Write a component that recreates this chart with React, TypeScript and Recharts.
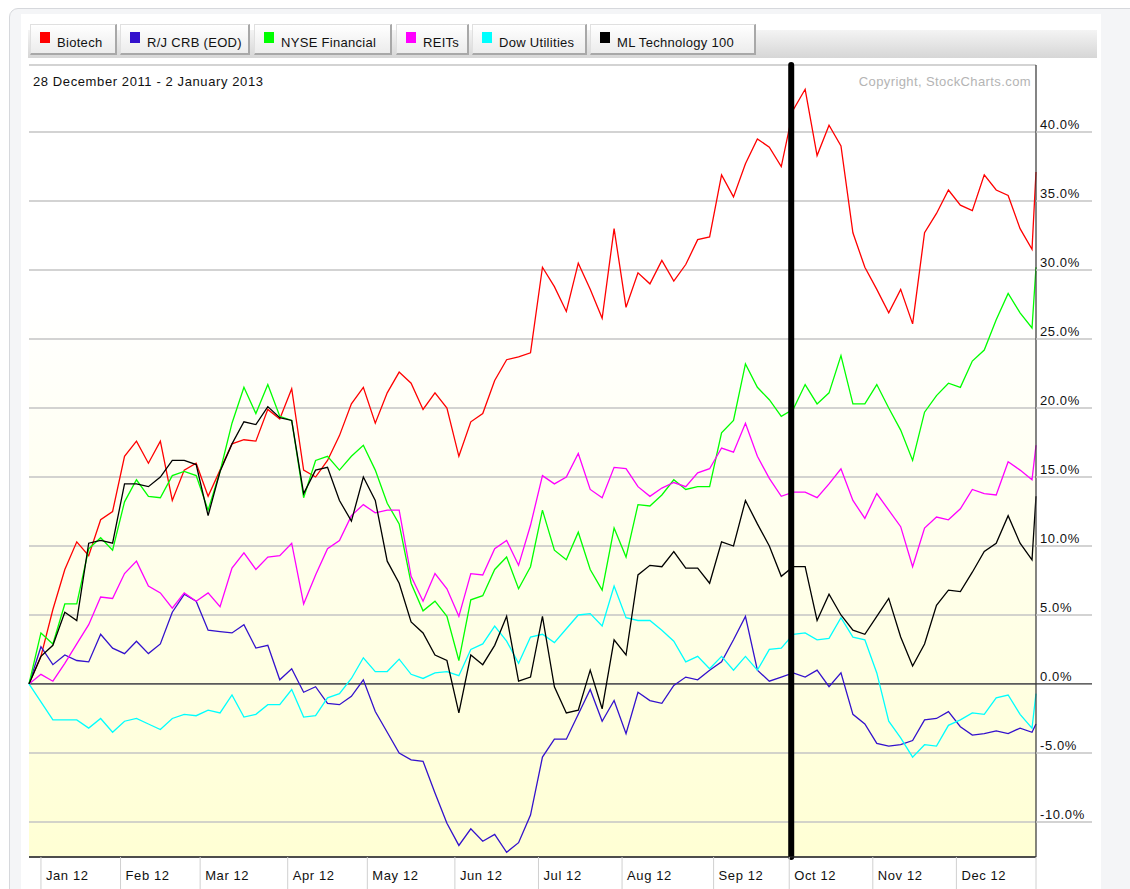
import React from 'react';
import { LineChart, Line, XAxis, YAxis, CartesianGrid, ReferenceLine } from 'recharts';

// sampled every 3rd trading day, last point = 2 Jan 2013 (day 253)
const biotech = [
  0, 2.0, 5.4, 8.3, 10.3, 9.3, 11.9, 12.5, 16.5, 17.6,
  16.0, 17.6, 13.3, 15.5, 16.0, 13.6, 15.5, 17.4, 17.7, 17.6,
  19.9, 19.2, 21.4, 15.5, 15.0, 16.2, 18.0, 20.3, 21.5, 18.9,
  21.1, 22.6, 21.8, 19.9, 21.1, 20.0, 16.5, 19.0, 19.6, 22.0,
  23.5, 23.7, 24.0, 30.2, 28.8, 27.0, 30.5, 28.6, 26.5, 33.0,
  27.3, 29.8, 29.0, 30.7, 29.2, 30.4, 32.2, 32.4, 36.9, 35.3,
  37.7, 39.5, 38.9, 37.5, 41.6, 43.1, 38.3, 40.5, 39.0, 32.7,
  30.2, 28.6, 26.9, 28.6, 26.1, 32.7, 34.1, 35.8, 34.7, 34.3,
  36.9, 35.8, 35.4, 33.0, 31.5, 37.1,
];
const rjCrb = [
  0, 2.7, 1.4, 2.1, 1.7, 1.6, 3.6, 2.6, 2.2, 3.1,
  2.2, 2.9, 5.2, 6.5, 6.0, 3.9, 3.8, 3.7, 4.3, 2.6,
  2.8, 0.3, 1.1, -0.6, -0.2, -1.4, -1.5, -0.9, 0.3, -2.0,
  -3.5, -5.0, -5.5, -5.6, -7.9, -10.1, -11.7, -10.5, -11.4, -10.9,
  -12.2, -11.5, -9.5, -5.3, -4.0, -4.0, -2.2, -0.4, -2.7, -1.2,
  -3.6, -0.6, -1.2, -1.4, -0.1, 0.5, 0.3, 1.0, 1.6, 3.2,
  4.9, 1.0, 0.2, 0.5, 0.8, 0.5, 1.0, -0.2, 0.8, -2.2,
  -2.9, -4.3, -4.5, -4.4, -4.1, -2.6, -2.5, -2.0, -3.1, -3.7,
  -3.6, -3.4, -3.6, -3.2, -3.5, -2.9,
];
const nyseFinancial = [
  0, 3.7, 2.9, 5.8, 5.8, 9.8, 10.6, 9.7, 13.2, 14.8,
  13.6, 13.5, 15.1, 15.4, 15.1, 12.6, 15.4, 18.9, 21.5, 19.6,
  21.7, 19.4, 19.1, 13.5, 16.2, 16.5, 15.5, 16.5, 17.3, 15.5,
  13.1, 11.6, 7.3, 5.3, 6.0, 4.9, 1.7, 6.1, 6.4, 8.3,
  9.2, 6.9, 8.5, 12.6, 9.7, 9.0, 11.0, 8.3, 6.8, 11.3,
  9.2, 13.0, 12.9, 13.7, 14.8, 14.1, 14.3, 14.3, 18.2, 19.1,
  23.2, 21.5, 20.6, 19.4, 19.9, 21.7, 20.3, 21.1, 23.8, 20.3,
  20.3, 21.7, 20.0, 18.4, 16.2, 19.7, 20.9, 21.8, 21.5, 23.4,
  24.2, 26.4, 28.3, 26.9, 25.8, 30.2,
];
const reits = [
  0, 0.7, 0.2, 1.5, 2.9, 4.3, 6.3, 6.2, 8.0, 8.9,
  7.1, 6.6, 5.5, 6.6, 6.0, 6.6, 5.6, 8.4, 9.5, 8.3,
  9.2, 9.3, 10.2, 5.8, 7.9, 9.8, 10.4, 12.2, 13.0, 12.4,
  12.6, 12.6, 7.8, 6.0, 8.0, 6.9, 4.9, 8.0, 7.9, 9.8,
  10.4, 8.6, 11.5, 15.1, 14.5, 15.0, 16.7, 14.1, 13.5, 15.7,
  15.6, 14.3, 13.6, 14.2, 14.6, 14.3, 15.3, 15.6, 17.1, 16.8,
  18.9, 16.5, 14.9, 13.6, 13.9, 13.9, 13.5, 14.5, 15.6, 13.3,
  12.0, 13.8, 12.6, 11.4, 8.5, 11.3, 12.1, 11.9, 12.7, 14.1,
  13.8, 13.7, 16.1, 15.5, 14.8, 17.3,
];
const dowUtilities = [
  0, -1.3, -2.6, -2.6, -2.6, -3.2, -2.5, -3.5, -2.7, -2.5,
  -2.9, -3.3, -2.5, -2.2, -2.3, -1.9, -2.1, -0.8, -2.4, -2.2,
  -1.5, -1.5, -0.4, -2.4, -2.3, -1.0, -0.7, 0.4, 1.9, 0.9,
  0.9, 1.8, 0.7, 0.4, 0.8, 0.9, 0.6, 2.5, 2.9, 4.2,
  3.1, 1.5, 3.4, 3.6, 3.0, 4.0, 5.0, 5.1, 4.2, 7.1,
  4.8, 4.6, 4.6, 3.9, 3.1, 1.6, 2.0, 1.1, 2.0, 1.0,
  2.0, 1.0, 2.5, 2.6, 3.6, 3.7, 3.2, 3.3, 4.8, 3.4,
  3.2, 0.8, -2.7, -3.9, -5.3, -4.4, -4.5, -3.0, -2.6, -2.1,
  -2.2, -1.0, -0.8, -2.2, -3.2, -0.7,
];
const mlTech = [
  0, 2.0, 2.8, 5.2, 4.6, 10.2, 10.4, 10.2, 14.5, 14.5,
  14.3, 15.0, 16.2, 16.2, 15.9, 12.2, 15.4, 17.4, 19.0, 18.8,
  20.1, 19.3, 19.1, 13.8, 15.5, 15.7, 13.3, 11.8, 15.0, 13.3,
  8.9, 7.3, 4.5, 3.7, 2.1, 1.7, -2.1, 2.1, 1.4, 2.8,
  4.9, 0.2, 0.5, 4.9, -0.2, -2.1, -1.9, 1.0, -1.8, 3.2,
  2.1, 7.9, 8.6, 8.5, 9.6, 8.4, 8.4, 7.3, 10.3, 10.0,
  13.3, 11.6, 10.0, 7.8, 8.5, 8.5, 4.6, 6.5, 5.0, 3.9,
  3.6, 4.9, 6.2, 3.4, 1.3, 2.9, 5.7, 6.8, 6.7, 8.1,
  9.6, 10.2, 12.2, 10.2, 9.0, 13.6,
];

const seriesKeys = ['biotech', 'rjCrb', 'nyseFinancial', 'reits', 'dowUtilities', 'mlTech'];
const seriesNames = ['Biotech', 'R/J CRB (EOD)', 'NYSE Financial', 'REITs', 'Dow Utilities', 'ML Technology 100'];
const seriesColors = ['#ff0000', '#3311cc', '#00ff00', '#ff00ff', '#00ffff', '#000000'];

const monthTicks = [3, 23, 43, 65, 85, 107, 128, 149, 172, 191, 212, 233, 253];
const monthLabels = ['Jan 12', 'Feb 12', 'Mar 12', 'Apr 12', 'May 12', 'Jun 12', 'Jul 12', 'Aug 12', 'Sep 12', 'Oct 12', 'Nov 12', 'Dec 12', ''];
const pctTicks = [-10, -5, 0, 5, 10, 15, 20, 25, 30, 35, 40];

const lastDay = 253;
const markerDay = 191.5;

const data = biotech.map((_, i) => ({
  day: Math.min(i * 3, lastDay),
  biotech: biotech[i],
  rjCrb: rjCrb[i],
  nyseFinancial: nyseFinancial[i],
  reits: reits[i],
  dowUtilities: dowUtilities[i],
  mlTech: mlTech[i],
}));

const font = '"Liberation Sans", Arial, sans-serif';

// tab geometry measured off the StockCharts legend strip
const tabLeft = [30, 120, 254, 396, 472, 590];
const tabWidth = [87, 130, 138, 73, 115, 166];

function MonthTick({ x, y, payload }: any) {
  const label = monthLabels[monthTicks.indexOf(payload.value)];
  return (
    <g>
      <line x1={x} x2={x} y1={y} y2={y + 34} stroke="#d0d0d0" strokeWidth={1} />
      <text x={x + 5} y={y + 23} fontSize={13} fontFamily={font} letterSpacing={0.6} fill="#111">
        {label}
      </text>
    </g>
  );
}

function PctTick({ x, y, payload }: any) {
  const zero = payload.value === 0;
  return (
    <g>
      <line x1={x} x2={x + 56} y1={y} y2={y} stroke={zero ? '#333' : '#c4c4c4'} strokeWidth={zero ? 1.3 : 1.5} />
      <text x={x + 4} y={y - 3} fontSize={13} fontFamily={font} letterSpacing={0.6} fill="#111">
        {payload.value.toFixed(1)}%
      </text>
    </g>
  );
}

export default function App() {
  return (
    <div style={{ position: 'absolute', left: 0, top: 0, width: 1130, height: 889, background: '#fff', overflow: 'hidden', fontFamily: font }}>
      {/* outer frame + white panel */}
      <div style={{ position: 'absolute', left: 9, top: 8, width: 1140, height: 900, background: '#f4f5f7', border: '1px solid #d6d8dc', borderRadius: 9 }} />
      <div style={{ position: 'absolute', left: 21, top: 14, width: 1080, height: 880, background: '#fff' }} />
      <div style={{ position: 'absolute', left: 28, top: 30, width: 1069, height: 28, background: 'linear-gradient(#f4f4f4, #d6d6d6)' }} />

      {seriesNames.map((name, i) => (
        <div
          key={name}
          style={{
            position: 'absolute',
            left: tabLeft[i],
            top: 24,
            width: tabWidth[i],
            height: 31,
            boxSizing: 'border-box',
            background: 'linear-gradient(#ffffff, #ececec)',
            borderTop: '1px solid #e0e0e0',
            borderLeft: '1px solid #e0e0e0',
            borderRight: '2px solid #a8a8a8',
            borderBottom: '2px solid #a8a8a8',
            fontSize: 13,
            letterSpacing: 0.3,
            color: '#111',
          }}
        >
          <div style={{ position: 'absolute', left: 9, top: 7, width: 10, height: 11, background: seriesColors[i] }} />
          <div style={{ position: 'absolute', left: 26, top: 10, whiteSpace: 'nowrap' }}>{name}</div>
        </div>
      ))}

      <div style={{ position: 'absolute', left: 0, top: 0 }}>
        <LineChart width={1130} height={889} data={data} margin={{ top: 65, right: 34, bottom: 0, left: 29 }}>
          <defs>
            <linearGradient id="plotBg" x1="0" y1="0" x2="0" y2="1">
              <stop offset="0%" stopColor="#ffffff" />
              <stop offset="30%" stopColor="#ffffff" />
              <stop offset="100%" stopColor="#ffffd4" />
            </linearGradient>
          </defs>
          <CartesianGrid vertical={false} stroke="#c4c4c4" strokeWidth={1.5} fill="url(#plotBg)" fillOpacity={1} />
          <XAxis
            dataKey="day"
            type="number"
            domain={[0, lastDay]}
            ticks={monthTicks}
            interval={0}
            height={32}
            tickSize={0}
            tickMargin={0}
            tickLine={false}
            axisLine={{ stroke: '#222', strokeWidth: 1.5 }}
            tick={(p: any) => <MonthTick {...p} />}
          />
          <YAxis
            orientation="right"
            type="number"
            domain={[-12.54, 44.86]}
            ticks={pctTicks}
            interval={0}
            width={60}
            tickSize={0}
            tickMargin={0}
            tickLine={false}
            allowDataOverflow
            axisLine={{ stroke: '#333', strokeWidth: 1.2 }}
            tick={(p: any) => <PctTick {...p} />}
          />
          <ReferenceLine y={0} stroke="#333" strokeWidth={1.3} />
          {seriesKeys.map((k, i) => (
            <Line
              key={k}
              type="linear"
              dataKey={k}
              name={seriesNames[i]}
              stroke={seriesColors[i]}
              strokeWidth={1.3}
              dot={false}
              isAnimationActive={false}
            />
          ))}
          <ReferenceLine x={markerDay} stroke="#000" strokeWidth={6} strokeLinecap="round" />
        </LineChart>
      </div>

      <div style={{ position: 'absolute', left: 33, top: 74, fontSize: 13, letterSpacing: 0.6, color: '#111' }}>
        28 December 2011 - 2 January 2013
      </div>
      <div style={{ position: 'absolute', right: 1130 - 1031, top: 74, fontSize: 13, letterSpacing: 0.4, color: '#b4b4b4' }}>
        Copyright, StockCharts.com
      </div>
    </div>
  );
}
